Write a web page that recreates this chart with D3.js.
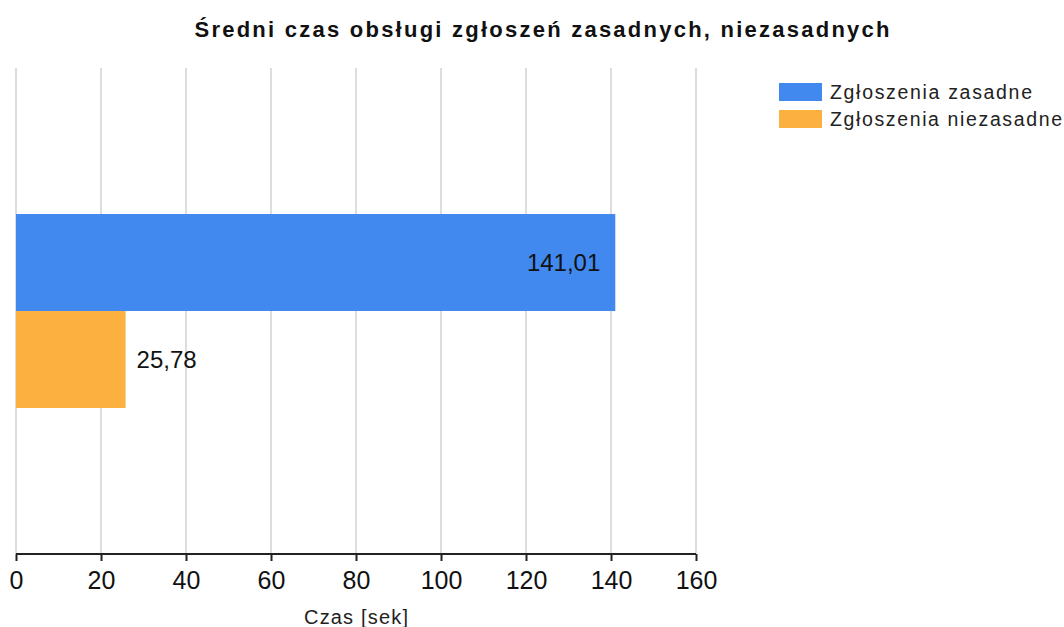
<!DOCTYPE html>
<html><head><meta charset="utf-8">
<script src="https://cdn.jsdelivr.net/npm/d3@7"></script>
<style>body{margin:0;background:#fff;} svg{display:block;font-family:"Liberation Sans",Arial,sans-serif;}</style>
</head><body>
<svg id="c" width="1064" height="627"></svg>
<script>
const title = "Średni czas obsługi zgłoszeń zasadnych, niezasadnych";
const categories = [""];
const seriesNames = ["Zgłoszenia zasadne", "Zgłoszenia niezasadne"];
const seriesValues = [[141.01], [25.78]];
const seriesColors = ["#4189ee", "#fbb040"];
const xTicks = [0, 20, 40, 60, 80, 100, 120, 140, 160];
const xTitle = "Czas [sek]";

const svg = d3.select("#c");
const m = {left: 16, right: 1064-696, top: 68, bottom: 627-554};
const W = 1064 - m.left - m.right, H = 627 - m.top - m.bottom;
const g = svg.append("g").attr("transform", `translate(${m.left},${m.top})`);

const x = d3.scaleLinear().domain([0, 160]).range([0, W]);
const y = d3.scaleBand().domain(categories).range([0, H]).paddingInner(0).paddingOuter(0.753);
const ys = d3.scaleBand().domain(seriesNames).range([0, y.bandwidth()]);

// gridlines
g.append("g").selectAll("line").data(xTicks).join("line")
  .attr("x1", d => x(d)).attr("x2", d => x(d)).attr("y1", 0).attr("y2", H)
  .attr("stroke", "#dddddd").attr("stroke-width", 2);

// bars
const fmt = v => d3.format(".2f")(v).replace(".", ",");
categories.forEach((c, ci) => {
  seriesNames.forEach((s, si) => {
    const v = seriesValues[si][ci];
    const by = y(c) + ys(s);
    g.append("rect").attr("x", x(0)).attr("y", by).attr("width", x(v) - x(0)).attr("height", ys.bandwidth())
      .attr("fill", seriesColors[si]);
    const inside = x(v) > 150;
    g.append("text").attr("x", inside ? x(v) - 15 : x(v) + 11).attr("y", by + ys.bandwidth()/2)
      .attr("dy", "0.36em").attr("text-anchor", inside ? "end" : "start")
      .attr("font-size", 24).attr("fill", "#111").text(fmt(v));
  });
});

// axis
const ax = g.append("g").attr("transform", `translate(0,${H})`)
  .call(d3.axisBottom(x).tickValues(xTicks).tickSize(7).tickSizeOuter(0).tickFormat(d3.format("d")));
ax.select(".domain").attr("stroke", "#222").attr("stroke-width", 2).attr("d", `M0,0H${W}`);
ax.selectAll(".tick line").attr("stroke", "#222").attr("stroke-width", 2);
ax.selectAll(".tick text").attr("font-size", 25).attr("fill", "#111").attr("y", 35).attr("dy", 0)
  .attr("font-family", "'Liberation Sans', Arial, sans-serif");

svg.append("text").attr("x", m.left + W/2).attr("y", 624).attr("text-anchor", "middle")
  .attr("font-size", 20).attr("fill", "#222").attr("textLength", 104).attr("lengthAdjust", "spacing").text(xTitle);

svg.append("text").attr("x", 542).attr("y", 37).attr("text-anchor", "middle")
  .attr("font-size", 22).attr("font-weight", "bold").attr("fill", "#111")
  .attr("textLength", 695).attr("lengthAdjust", "spacing").text(title);

// legend
const lg = svg.append("g").attr("transform", "translate(779,83)");
const legW = [202, 232];
seriesNames.forEach((s, i) => {
  lg.append("rect").attr("x", 0).attr("y", i*27).attr("width", 43).attr("height", 18).attr("fill", seriesColors[i]);
  lg.append("text").attr("x", 51).attr("y", i*27 + 9).attr("dy", "0.36em").attr("font-size", 19.5)
    .attr("fill", "#222").attr("textLength", legW[i]).attr("lengthAdjust", "spacing").text(s);
});
</script>
</body></html>
